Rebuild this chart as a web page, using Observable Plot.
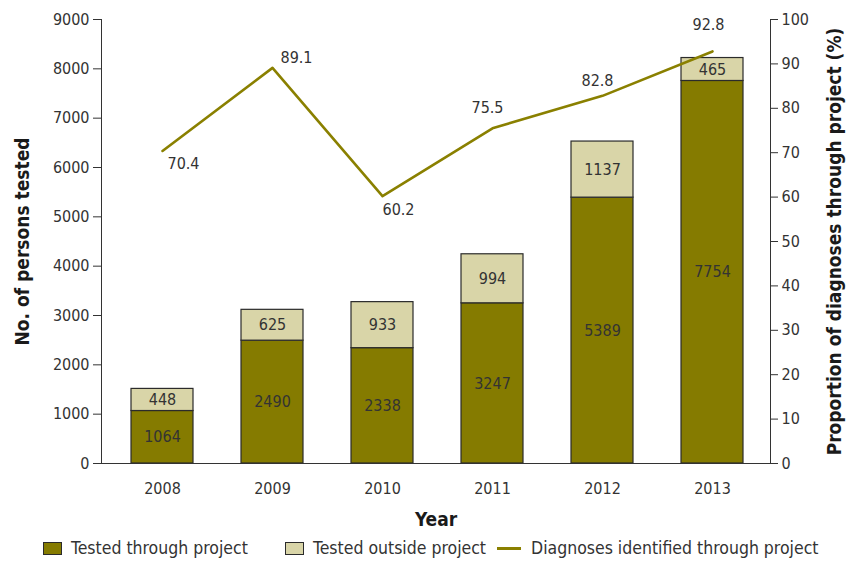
<!DOCTYPE html>
<html>
<head>
<meta charset="utf-8">
<script src="https://cdn.jsdelivr.net/npm/d3@7"></script>
<script src="https://cdn.jsdelivr.net/npm/@observablehq/plot@0.6"></script>
<style>
  html, body { margin: 0; padding: 0; background: #fff; }
  body { width: 853px; height: 565px; overflow: hidden; font-family: 'DejaVu Sans Condensed', 'Liberation Sans', sans-serif; color: #333; }
  #chart svg g[aria-label$="axis label"] text { font-weight: 700; font-size: 19px; fill: #1a1a1a; }
  .legend { position: relative; height: 35px; font-size: 17.5px; color: #333; }
  .legend .item { position: absolute; top: 8px; display: flex; align-items: center; white-space: nowrap; }
  .legend .sw { width: 17px; height: 11px; border: 1.5px solid #2b2b2b; margin-right: 9px; }
  .legend .ln { width: 24px; height: 3px; margin-right: 10px; }
</style>
</head>
<body>
<div id="chart"></div>
<div class="legend" id="legend"></div>
<script>
const years = ["2008", "2009", "2010", "2011", "2012", "2013"];
const testedThrough = [1064, 2490, 2338, 3247, 5389, 7754];
const testedOutside = [448, 625, 933, 994, 1137, 465];
const diagnosesPct = [70.4, 89.1, 60.2, 75.5, 82.8, 92.8];
const leftTicks = [0, 1000, 2000, 3000, 4000, 5000, 6000, 7000, 8000, 9000];
const rightTicks = [0, 10, 20, 30, 40, 50, 60, 70, 80, 90, 100];
const seriesNames = ["Tested through project", "Tested outside project", "Diagnoses identified through project"];

// label offsets for line value labels (style only)
const lineLabelOffsets = [[21, 13], [24, -10], [16, 14], [-5, -20], [-5, -15], [-4, -27]];

const darkOlive = "#857b00";
const lightOlive = "#d9d5a8";
const lineColor = "#8a8000";
const pctScale = 9000 / 100; // map right axis (0-100%) onto left axis (0-9000)

const bars = years.flatMap((yr, i) => [
  {year: yr, series: seriesNames[0], y1: 0, y2: testedThrough[i], value: testedThrough[i]},
  {year: yr, series: seriesNames[1], y1: testedThrough[i], y2: testedThrough[i] + testedOutside[i], value: testedOutside[i]}
]);
const line = years.map((yr, i) => ({year: yr, pct: diagnosesPct[i], yv: diagnosesPct[i] * pctScale}));

const labelMarks = line.map((d, i) => Plot.text([d], {
  x: "year", y: "yv", text: d => d.pct.toFixed(1),
  dx: lineLabelOffsets[i][0], dy: lineLabelOffsets[i][1],
  fill: "#333", fontSize: 16
}));

const chart = Plot.plot({
  width: 853,
  height: 530,
  marginLeft: 101,
  marginRight: 83,
  marginTop: 19,
  marginBottom: 67,
  style: {fontFamily: "'DejaVu Sans Condensed', 'Liberation Sans', sans-serif", fontSize: "16px", color: "#333", background: "#fff"},
  x: {type: "band", domain: years, paddingInner: 0.44, paddingOuter: 0.22, insetLeft: 6, insetRight: 3},
  y: {domain: [0, 9000]},
  color: {domain: seriesNames.slice(0, 2), range: [darkOlive, lightOlive]},
  marks: [
    Plot.barY(bars, {x: "year", y1: "y1", y2: "y2", fill: "series", stroke: "#2b2b2b", strokeWidth: 1.2}),
    Plot.text(bars, {x: "year", y: d => (d.y1 + d.y2) / 2, text: d => String(d.value), fill: "#333", fontSize: 16}),
    Plot.line(line, {x: "year", y: "yv", stroke: lineColor, strokeWidth: 2.6}),
    ...labelMarks,
    Plot.frame({anchor: "left", stroke: "#333"}),
    Plot.frame({anchor: "right", stroke: "#333"}),
    Plot.frame({anchor: "bottom", stroke: "#333"}),
    Plot.axisY(leftTicks, {anchor: "left", tickSize: 8, tickPadding: 4, stroke: "#333", tickFormat: d => String(d), label: "No. of persons tested", labelAnchor: "center", labelArrow: "none", labelOffset: 86}),
    Plot.axisY(rightTicks.map(v => v * pctScale), {anchor: "right", tickSize: 7, tickPadding: 4, stroke: "#333", tickFormat: d => String(Math.round(d / pctScale)), label: "Proportion of diagnoses through project (%)", labelAnchor: "center", labelArrow: "none", labelOffset: 70}),
    Plot.axisX({anchor: "bottom", tickSize: 0, tickPadding: 19, label: "Year", labelAnchor: "center", labelArrow: "none", labelOffset: 62})
  ]
});
document.getElementById("chart").appendChild(chart);

const legend = document.getElementById("legend");
const legendItems = [
  {name: seriesNames[0], kind: "sw", color: darkOlive, left: 43},
  {name: seriesNames[1], kind: "sw", color: lightOlive, left: 285},
  {name: seriesNames[2], kind: "ln", color: lineColor, left: 497}
];
for (const it of legendItems) {
  const el = document.createElement("div");
  el.className = "item";
  el.style.left = it.left + "px";
  const sw = document.createElement("span");
  sw.className = it.kind;
  sw.style.background = it.color;
  el.appendChild(sw);
  el.appendChild(document.createTextNode(it.name));
  legend.appendChild(el);
}
</script>
</body>
</html>
